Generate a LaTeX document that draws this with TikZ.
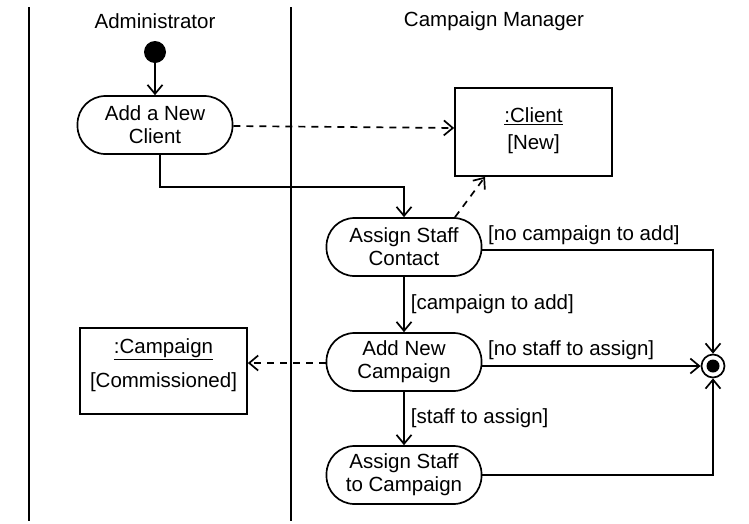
\documentclass[tikz,border=0pt]{standalone}
\usepackage{fontspec}
\setmainfont{Liberation Sans}
\usetikzlibrary{arrows.meta}
\begin{document}
\begin{tikzpicture}[x=1pt,y=-1pt,
  every node/.style={font=\fontsize{20.5}{23}\selectfont},
  act/.style={draw,line width=1.7pt,rounded corners=28pt,minimum width=155pt,minimum height=58pt,inner sep=0pt,align=center},
  obj/.style={draw,line width=1.7pt,inner sep=0pt},
  flow/.style={line width=1.7pt,-{Straight Barb[length=9pt,width=15pt,line width=1.7pt]}},
  dep/.style={flow,dash pattern=on 7pt off 6pt},
  lane/.style={line width=1.7pt},
  lbl/.style={inner sep=0pt}]
\useasboundingbox (0,0) rectangle (749,523);
% swimlanes
\coordinate (l1t) at (29,7); \coordinate (l1b) at (29,521);
\coordinate (l2t) at (291,7); \coordinate (l2b) at (291,521);
\draw[lane] (l1t) -- (l1b);
\draw[lane] (l2t) -- (l2b);
\node (t1) at (155,21) {Administrator};
\node (t2) at (494,21) {Campaign Manager};
% nodes
\node[circle,fill=black,minimum size=22pt,inner sep=0pt] (start) at (155,52) {};
\node[act] (anc) at (155,125) {Add a New\\Client};
\node[obj,minimum width=157pt,minimum height=88pt] (client) at (533.5,132) {};
\node (clientt) at (533.5,116) {\underline{:Client}};
\node (clients) at (533.5,144) {[New]};
\node[act] (asc) at (404,247) {Assign Staff\\Contact};
\node[act] (anc2) at (404,362) {Add New\\Campaign};
\node[act] (astc) at (404,475) {Assign Staff\\to Campaign};
\node[obj,minimum width=167pt,minimum height=86pt] (camp) at (163.5,371) {};
\node (campt) at (163.5,349) {\underline{:Campaign}};
\node (camps) at (163.5,382) {[Commissioned]};
\node[circle,draw,line width=1.7pt,minimum size=23pt,inner sep=0pt] (final) at (713,366) {};
\node[circle,fill=black,minimum size=13pt,inner sep=0pt] at (final) {};
% connectors
\draw[flow] (start) -- (anc);
\draw[dep] (anc.east |- 0,126) -- (client.west |- 0,128);
\draw[flow] (anc.south -| 160,0) |- (404,187) -- (asc.north);
\draw[dep] (asc.north -| 455,0) -- (client.south -| 485,0);
\draw[flow] (asc.east |- 0,250) -| (final.north);
\node[lbl,anchor=west] (l1) at (488,235) {[no campaign to add]};
\draw[flow] (asc) -- node[lbl,right=6pt] (l2) {[campaign to add]} (anc2);
\draw[flow] (anc2.east |- final.west) -- (final.west);
\node[lbl,anchor=west] (l3) at (488,350) {[no staff to assign]};
\draw[dep] (anc2.west |- 0,363) -- (camp.east |- 0,363);
\draw[flow] (anc2) -- node[lbl,right=6pt] (l4) {[staff to assign]} (astc);
\draw[flow] (astc.east) -| (final.south);
\end{tikzpicture}
\end{document}
